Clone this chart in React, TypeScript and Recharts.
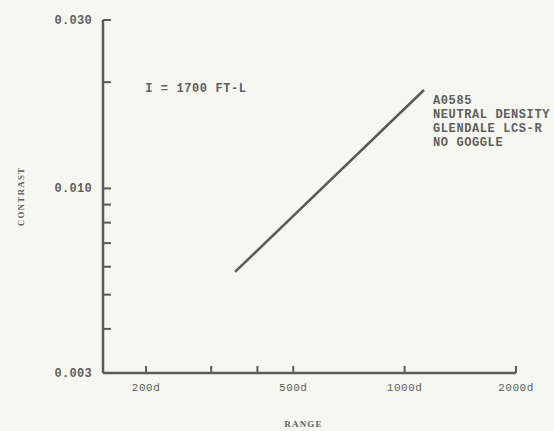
import React from 'react';
import { LineChart, Line, XAxis, YAxis, ReferenceDot, Label } from 'recharts';

const rangeValues = [348, 1128];
const contrastValues = [0.0058, 0.019];

const xTicks = [200, 300, 400, 500, 1000, 2000];
const xTickLabels = ['200d', '', '', '500d', '1000d', '2000d'];
const yTicks = [0.003, 0.004, 0.005, 0.006, 0.007, 0.008, 0.009, 0.01, 0.02, 0.03];
const yTickLabels = ['0.003', '', '', '', '', '', '', '0.010', '', '0.030'];

const noteLeft = ['I = 1700 FT-L'];
const noteRight = ['A0585', 'NEUTRAL DENSITY', 'GLENDALE LCS-R', 'NO GOGGLE'];
const noteLeftAt = { x: 199, y: 0.0193 };
const noteRightAt = { x: 1193, y: 0.0178 };

const data = rangeValues.map((r, i) => ({ range: r, contrast: contrastValues[i] }));

const INK = '#5a5a5a';
const TEXT = '#5e5e5e';
const MONO = '"Liberation Mono", "DejaVu Sans Mono", monospace';
const SERIF = '"Liberation Serif", "DejaVu Serif", serif';

const YTick = (props: any) => {
  const { x, y, payload, index } = props;
  const label = yTickLabels[index] ?? '';
  return (
    <g>
      <line x1={x} x2={x + 8} y1={y} y2={y} stroke={INK} strokeWidth={2} />
      {label && (
        <text x={x - 11} y={y} dy={4} textAnchor="end" fontFamily={MONO} fontSize={12} fontWeight="bold" fill={TEXT} letterSpacing={0.3}>
          {label}
        </text>
      )}
    </g>
  );
};

const XTick = (props: any) => {
  const { x, y, index } = props;
  const label = xTickLabels[index] ?? '';
  return (
    <g>
      <line x1={x} x2={x} y1={y} y2={y - 7} stroke={INK} strokeWidth={2} />
      {label && (
        <text x={x} y={y + 18} textAnchor="middle" fontFamily={MONO} fontSize={11} fill={TEXT} letterSpacing={0.5}>
          {label}
        </text>
      )}
    </g>
  );
};

const NoteLabel = (lines: string[]) => (props: any) => {
  const { viewBox } = props;
  const cx = viewBox.x + (viewBox.width || 0) / 2;
  const cy = viewBox.y + (viewBox.height || 0) / 2;
  return (
    <text x={cx} y={cy} fontFamily={MONO} fontSize={12} fontWeight="bold" fill={TEXT} letterSpacing={0.6}>
      {lines.map((l, i) => (
        <tspan key={i} x={cx} dy={i === 0 ? 4 : 14}>
          {l}
        </tspan>
      ))}
    </text>
  );
};

const YTitle = (props: any) => {
  const { viewBox } = props;
  const cx = viewBox.x + 6;
  const cy = viewBox.y + viewBox.height / 2;
  return (
    <text x={cx} y={cy} transform={`rotate(-90 ${cx} ${cy})`} textAnchor="middle" dy={4} fontFamily={SERIF} fontSize={9} fontWeight="bold" fill={TEXT} letterSpacing={1.2}>
      CONTRAST
    </text>
  );
};

const XTitle = (props: any) => {
  const { viewBox } = props;
  const cx = viewBox.x + viewBox.width / 2 - 6;
  const cy = viewBox.y + viewBox.height;
  return (
    <text x={cx} y={cy} textAnchor="middle" fontFamily={SERIF} fontSize={9} fontWeight="bold" fill={TEXT} letterSpacing={1.2}>
      RANGE
    </text>
  );
};

export default function App() {
  return (
    <div style={{ position: 'absolute', left: 0, top: 0, width: 554, height: 431, background: '#f6f7f1' }}>
      <LineChart width={554} height={431} data={data} margin={{ top: 20, right: 38, left: 14, bottom: 4 }}>
        <XAxis
          dataKey="range"
          type="number"
          scale="log"
          domain={[153, 2000]}
          ticks={xTicks}
          allowDataOverflow
          tickSize={0}
          tickMargin={0}
          tick={<XTick />}
          axisLine={{ stroke: INK, strokeWidth: 2.5 }}
          height={54}
          interval={0}
        >
          <Label content={<XTitle />} />
        </XAxis>
        <YAxis
          dataKey="contrast"
          type="number"
          scale="log"
          domain={[0.003, 0.03]}
          ticks={yTicks}
          allowDataOverflow
          tickSize={0}
          tickMargin={0}
          tick={<YTick />}
          axisLine={{ stroke: INK, strokeWidth: 2.5 }}
          width={89}
          interval={0}
        >
          <Label content={<YTitle />} />
        </YAxis>
        <Line
          dataKey="contrast"
          stroke={INK}
          strokeWidth={2.5}
          dot={false}
          isAnimationActive={false}
        />
        <ReferenceDot x={noteLeftAt.x} y={noteLeftAt.y} r={0} stroke="none" fill="none" label={NoteLabel(noteLeft)} />
        <ReferenceDot x={noteRightAt.x} y={noteRightAt.y} r={0} stroke="none" fill="none" label={NoteLabel(noteRight)} />
      </LineChart>
    </div>
  );
}
